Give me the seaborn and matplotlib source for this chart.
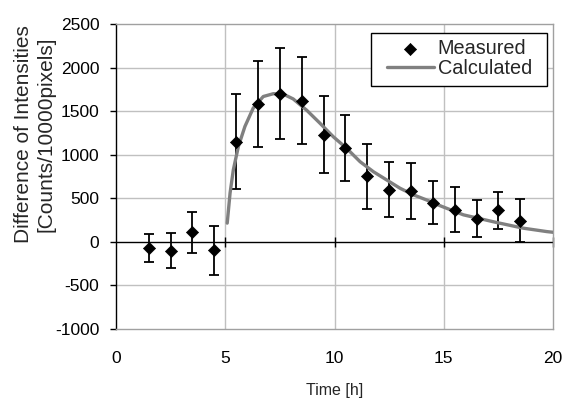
import matplotlib
matplotlib.use("Agg")
import matplotlib.pyplot as plt
from matplotlib.patches import Rectangle
import seaborn as sns
import pandas as pd

# Measured data
meas_t = [1.5, 2.5, 3.5, 4.5, 5.5, 6.5, 7.5, 8.5, 9.5, 10.5, 11.5, 12.5, 13.5, 14.5, 15.5, 16.5, 17.5, 18.5]
meas_v = [-70, -100, 110, -95, 1150, 1580, 1700, 1620, 1230, 1075, 750, 600, 585, 450, 370, 265, 360, 245]
meas_err = [160, 200, 235, 280, 545, 490, 520, 500, 440, 375, 370, 320, 320, 250, 255, 215, 215, 245]

# Calculated curve
calc_t = [5.09, 5.22, 5.37, 5.6, 5.9, 6.28, 6.74, 7.2, 7.66, 8.11, 8.73, 9.34, 9.95, 10.56,
          11.17, 11.78, 12.39, 13.0, 13.61, 14.22, 14.83, 15.9, 17.42, 18.64, 19.71, 20.0]
calc_v = [215, 559, 827, 1094, 1324, 1535, 1668, 1700, 1695, 1640, 1510, 1360, 1205, 1072,
          920, 805, 710, 615, 540, 480, 415, 310, 222, 157, 118, 110]

x_ticks = [0, 5, 10, 15, 20]
y_ticks = [-1000, -500, 0, 500, 1000, 1500, 2000, 2500]

sns.set_theme(style="white")
plt.rcParams['font.family'] = ['Liberation Sans', 'DejaVu Sans']
plt.rcParams['axes.unicode_minus'] = False

meas_df = pd.DataFrame({"t": meas_t, "v": meas_v, "err": meas_err})
calc_df = pd.DataFrame({"t": calc_t, "v": calc_v})

fig = plt.figure(figsize=(5.65, 3.98), dpi=100)
ax = fig.add_axes([116 / 565, 1 - 329 / 398, (553 - 116) / 565, (329 - 24) / 398])

# grid
for xv in x_ticks[1:-1]:
    ax.axvline(xv, color="#c0c0c0", lw=1.0, zorder=0)
for yv in y_ticks[1:-1]:
    if yv != 0:
        ax.axhline(yv, color="#c0c0c0", lw=1.0, zorder=0)
ax.axhline(0, color="black", lw=1.0, zorder=1)

ax.errorbar(meas_df["t"], meas_df["v"], yerr=meas_df["err"], fmt="none", ecolor="black",
            elinewidth=1.3, capsize=3.8, capthick=1.3, zorder=2)
sns.lineplot(data=calc_df, x="t", y="v", color="#808080", linewidth=2.4, ax=ax,
             label="Calculated", zorder=3, sort=False)
sns.scatterplot(data=meas_df, x="t", y="v", marker="D", color="black", s=38,
                edgecolor="black", linewidth=0.5, ax=ax, label="Measured", zorder=4)

ax.set_xlim(0, 20)
ax.set_ylim(-1000, 2500)
ax.set_xticks(x_ticks)
ax.set_yticks(y_ticks)
ax.tick_params(axis="x", length=0, pad=16, labelsize=12.5, colors="black")
ax.tick_params(axis="y", length=4, width=1, direction="out", pad=8, labelsize=12.5,
               colors="black", left=True)
ax.set_xlabel("Time [h]", fontsize=11.5, labelpad=12)
ax.set_ylabel("")
fig.text(35 / 565, 1 - 134 / 398, "Difference of Intensities\n[Counts/10000pixels]",
         rotation=90, ha="center", va="center", multialignment="center",
         fontsize=15, linespacing=1.2)

for s in ["top", "right", "bottom"]:
    ax.spines[s].set_color("#a0a0a0")
    ax.spines[s].set_linewidth(1.0)
ax.spines["left"].set_color("black")
ax.spines["left"].set_linewidth(1.0)

# x tick marks crossing the zero line
sec = ax.secondary_xaxis(1000 / 3500)
sec.set_xticks(x_ticks[1:])
sec.tick_params(axis="x", direction="inout", length=7, width=1, labelbottom=False,
                labeltop=False, colors="black")
sec.spines["bottom"].set_visible(False)
sec.spines["top"].set_visible(False)

# legend frame
ax.add_patch(Rectangle(((371 - 116) / 437, (329 - 86) / 305), (547 - 371) / 437, (86 - 33) / 305,
                       transform=ax.transAxes, facecolor="white", edgecolor="black",
                       linewidth=1.0, zorder=5))

handles, labels = ax.get_legend_handles_labels()
order = [labels.index("Measured"), labels.index("Calculated")]
leg = ax.legend([handles[i] for i in order], [labels[i] for i in order],
                loc="upper left", bbox_to_anchor=((387 - 116) / 437, (329 - 39) / 305),
                fontsize=14.3, frameon=False, handlelength=2.35, handletextpad=0.2,
                labelspacing=0.05, borderpad=0, borderaxespad=0)
leg.set_zorder(6)

fig.savefig("out.png", dpi=100)
